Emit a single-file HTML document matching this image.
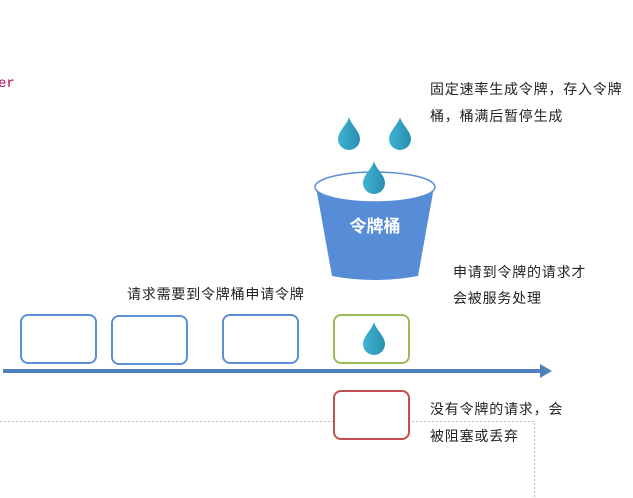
<!DOCTYPE html>
<html><head><meta charset="utf-8"><style>
html,body{margin:0;padding:0;background:#fff;}
body{width:633px;height:498px;overflow:hidden;position:relative;}
.t{position:absolute;font-family:"Liberation Sans","Noto Sans CJK SC",sans-serif;font-size:14px;color:#222;letter-spacing:0.8px;white-space:nowrap;line-height:16px;}
</style></head><body>
<svg width="633" height="498" style="position:absolute;left:0;top:0">
<defs>
<linearGradient id="g" x1="0" y1="0" x2="1" y2="0">
<stop offset="0" stop-color="#3fb3d3"/><stop offset="1" stop-color="#2a8fb0"/>
</linearGradient>
<symbol id="drop" viewBox="0 0 22 34" overflow="visible">
<path d="M11 0 C13 8 22 14 22 22 A11 11 0 0 1 0 22 C0 14 9 8 11 0Z" fill="url(#g)"/>
</symbol>
</defs>
<path d="M0 421.5 H534.5 V498" fill="none" stroke="#bbb" stroke-dasharray="2,2"/>
<path d="M316 187 L332 276 Q375 284 418 276 L434 187Z" fill="#568dd6"/>
<ellipse cx="375" cy="187" rx="60" ry="15" fill="#fff" stroke="#5b8fd6" stroke-width="1.5"/>
<text x="375" y="232" fill="#fff" font-size="17" font-weight="bold" text-anchor="middle" font-family="Liberation Sans,Noto Sans CJK SC,sans-serif">令牌桶</text>
<use href="#drop" x="338" y="117" width="22" height="34"/>
<use href="#drop" x="389" y="117" width="22" height="34"/>
<use href="#drop" x="363" y="161" width="22" height="34"/>
<rect x="21" y="315" width="75" height="48" rx="7" fill="#fff" stroke="#5b8fd6" stroke-width="2"/>
<rect x="112" y="316" width="75" height="48" rx="7" fill="#fff" stroke="#5b8fd6" stroke-width="2"/>
<rect x="223" y="315" width="75" height="48" rx="7" fill="#fff" stroke="#5b8fd6" stroke-width="2"/>
<rect x="334" y="315" width="75" height="48" rx="7" fill="#fff" stroke="#9bbb59" stroke-width="2"/>
<use href="#drop" x="363" y="322" width="22" height="34"/>
<rect x="334" y="391" width="75" height="48" rx="7" fill="#fff" stroke="#c0504d" stroke-width="2"/>
<rect x="3" y="369" width="538" height="4" fill="#4f81bd"/>
<path d="M540 364 L552 371 L540 378Z" fill="#4f81bd"/>
</svg>
<div class="t" style="left:-2px;top:76px;font-family:'Liberation Mono',monospace;font-size:14px;color:#b0005a;letter-spacing:0">er</div>
<div class="t" style="left:430px;top:81px">固定速率生成令牌，存入令牌</div>
<div class="t" style="left:430px;top:108px">桶，桶满后暂停生成</div>
<div class="t" style="left:127px;top:286px">请求需要到令牌桶申请令牌</div>
<div class="t" style="left:453px;top:264px">申请到令牌的请求才</div>
<div class="t" style="left:453px;top:290px">会被服务处理</div>
<div class="t" style="left:430px;top:401px">没有令牌的请求，会</div>
<div class="t" style="left:430px;top:428px">被阻塞或丢弃</div>
</body></html>
